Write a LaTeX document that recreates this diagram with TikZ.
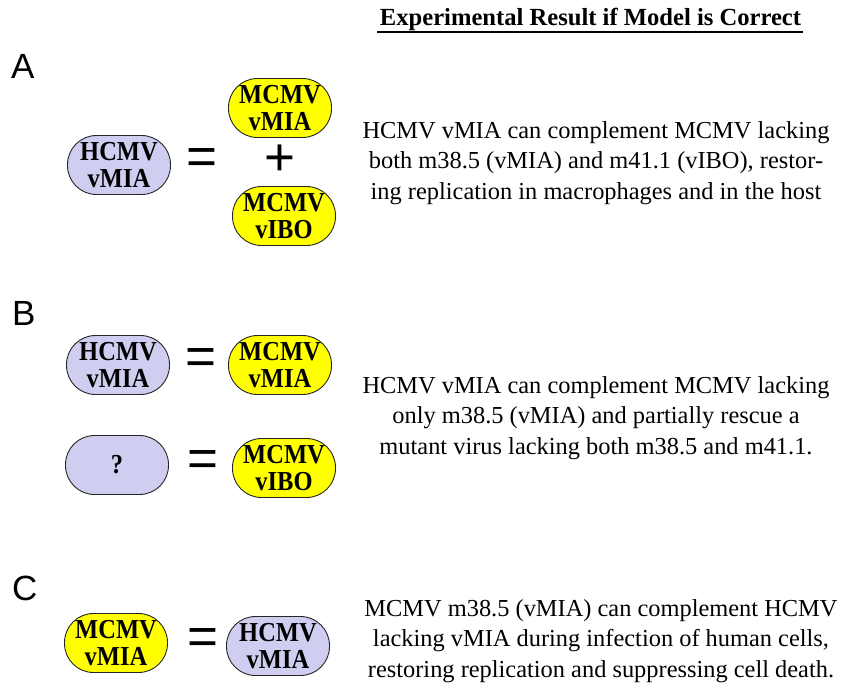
\documentclass[tikz,border=0pt]{standalone}
\usepackage{graphicx}
\usepackage{fontspec}
\setmainfont{Liberation Serif}
\newfontfamily\panelfont{Liberation Sans}
\definecolor{lav}{RGB}{208,206,240}
\definecolor{yel}{RGB}{255,255,0}
\newcommand\pilltxt[2]{\scalebox{1}[1.12]{\vbox{\halign{\hfil##\hfil\cr #1\cr #2\cr}}}}
\begin{document}
\begin{tikzpicture}[x=1pt,y=-1pt,
  pill/.style={rectangle, rounded corners=29pt, draw=black!85, line width=0.9pt,
    minimum width=103pt, minimum height=59pt, inner sep=0pt,
    font=\fontsize{24.5}{24.5}\selectfont\bfseries, align=center},
  hpill/.style={pill, fill=lav},
  mpill/.style={pill, fill=yel},
  panel/.style={font=\panelfont\fontsize{35}{35}\selectfont, inner sep=0pt, anchor=north west},
  sym/.style={font=\panelfont\fontsize{53}{53}\selectfont, inner sep=0pt},
  desc/.style={font=\fontsize{24.4}{30.5}\selectfont, align=center, inner sep=0pt},
  hdrstyle/.style={font=\fontsize{24.6}{26}\selectfont\bfseries, inner sep=0pt, anchor=base}
]
\path[use as bounding box] (0,0) rectangle (848,688);

% header
\node[hdrstyle] (hdr) at (590.5,25) {Experimental Result if Model is Correct};
\draw[line width=2pt] ([xshift=-3pt]hdr.base west) ++(0,7) coordinate (ul1) -- ([xshift=2pt]hdr.base east |- ul1);

% Panel A
\node[panel] (pA) at (11,54) {A};
\node[hpill] (a1) at (119,165) {\pilltxt{HCMV}{vMIA}};
\node[sym] (aeq) at (201.5,162) {=};
\node[mpill] (a2) at (280,108) {\pilltxt{MCMV}{vMIA}};
\node[sym] (aplus) at (280,160) {+};
\node[mpill] (a3) at (284,216) {\pilltxt{MCMV}{vIBO}};
\node[desc] (ta) at (596,163) {HCMV vMIA can complement MCMV lacking\\both m38.5 (vMIA) and m41.1 (vIBO), restor-\\ing replication in macrophages and in the host};

% Panel B
\node[panel] (pB) at (12,301) {B};
\node[hpill] (b1) at (118,365) {\pilltxt{HCMV}{vMIA}};
\node[sym] (beq1) at (201,362) {=};
\node[mpill] (b2) at (280,365) {\pilltxt{MCMV}{vMIA}};
\node[hpill] (b3) at (117,465) {\scalebox{1}[1.12]{?}};
\node[sym] (beq2) at (203,464) {=};
\node[mpill] (b4) at (284,468) {\pilltxt{MCMV}{vIBO}};
\node[desc] (tb) at (596,418) {HCMV vMIA can complement MCMV lacking\\only m38.5 (vMIA) and partially rescue a\\mutant virus lacking both m38.5 and m41.1.};

% Panel C
\node[panel] (pC) at (12,576) {C};
\node[mpill] (c1) at (116,643) {\pilltxt{MCMV}{vMIA}};
\node[sym] (ceq) at (203,641) {=};
\node[hpill] (c2) at (278,646) {\pilltxt{HCMV}{vMIA}};
\node[desc] (tc) at (601,641) {MCMV m38.5 (vMIA) can complement HCMV\\lacking vMIA during infection of human cells,\\restoring replication and suppressing cell death.};
\end{tikzpicture}
\end{document}
